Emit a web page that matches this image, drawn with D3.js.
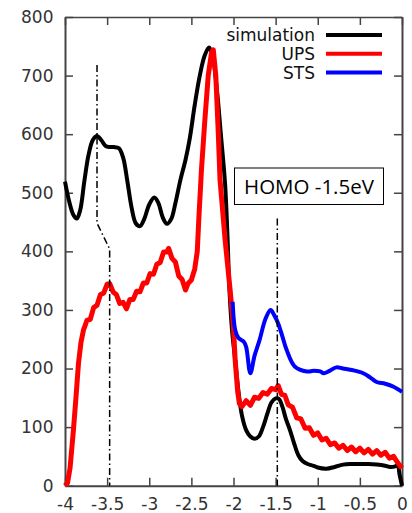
<!DOCTYPE html>
<html>
<head>
<meta charset="utf-8">
<script src="https://cdn.jsdelivr.net/npm/d3@7"></script>
<style>
    body { margin: 0; background: #fff; }
    svg { display: block; }
    .tick text { font-family: "DejaVu Sans", sans-serif; font-size: 17px; fill: #333; }
    .legend text { font-family: "DejaVu Sans", sans-serif; font-size: 17px; fill: #111; }
</style>
</head>
<body>
<svg id="chart" width="412" height="513"></svg>
<script>
// Data: energy (eV) -> intensity
var simX = [-4.00, -3.95, -3.90, -3.86, -3.82, -3.77, -3.72, -3.67, -3.62, -3.57, -3.52, -3.47, -3.42, -3.36, -3.31, -3.26, -3.21, -3.16, -3.11, -3.06,
            -3.00, -2.94, -2.89, -2.84, -2.79, -2.74, -2.69, -2.63, -2.57, -2.52, -2.46, -2.40, -2.34, -2.29, -2.25, -2.20, -2.15, -2.10, -2.07, -2.05,
            -2.02, -1.98, -1.94, -1.90, -1.85, -1.80, -1.75, -1.70, -1.65, -1.60, -1.55, -1.50, -1.46, -1.42, -1.38, -1.33, -1.28, -1.23, -1.18, -1.12,
            -1.05, -1.00, -0.90, -0.80, -0.70, -0.60, -0.50, -0.40, -0.30, -0.20, -0.14, -0.08, -0.05, -0.03, 0.00];
var simY = [519, 485, 462, 456, 470, 520, 565, 590, 597, 590, 580, 578, 578, 576, 560, 520, 475, 448, 443, 455,
            480, 492, 482, 458, 447, 455, 482, 522, 556, 592, 650, 700, 735, 748, 735, 680, 600, 515, 420, 340,
            270, 214, 160, 120, 95, 84, 80, 84, 100, 122, 142, 149, 148, 135, 115, 95, 72, 52, 42, 37,
            34, 31, 29, 32, 36, 37, 37, 37, 36, 34, 32, 33, 35, 20, 0];

var upsX = [-4.00, -3.97, -3.94, -3.90, -3.87, -3.84, -3.81, -3.78, -3.74, -3.70, -3.66, -3.62, -3.58, -3.54, -3.50, -3.47, -3.43, -3.39, -3.35, -3.31,
            -3.27, -3.23, -3.19, -3.15, -3.11, -3.07, -3.03, -2.99, -2.95, -2.91, -2.87, -2.83, -2.79, -2.77, -2.73, -2.69, -2.65, -2.61, -2.57, -2.54,
            -2.50, -2.46, -2.43, -2.41, -2.38, -2.34, -2.30, -2.26, -2.24, -2.21, -2.18, -2.16, -2.10, -2.04, -2.00, -1.98, -1.95, -1.93, -1.90, -1.85,
            -1.80, -1.75, -1.70, -1.65, -1.60, -1.55, -1.50, -1.47, -1.43, -1.39, -1.35, -1.30, -1.25, -1.20, -1.15, -1.10, -1.05, -1.00, -0.95, -0.90,
            -0.85, -0.80, -0.75, -0.70, -0.65, -0.60, -0.55, -0.50, -0.45, -0.40, -0.35, -0.30, -0.25, -0.20, -0.15, -0.10, -0.05, 0.00];
var upsY = [0, 5, 30, 95, 150, 209, 245, 266, 282, 284, 304, 308, 326, 329, 344, 345, 331, 326, 311, 313,
            302, 318, 318, 332, 331, 346, 346, 362, 361, 378, 381, 399, 399, 405, 388, 382, 358, 352, 334, 345,
            351, 370, 400, 460, 540, 624, 700, 740, 744, 700, 600, 522, 420, 334, 270, 214, 160, 140, 135, 145,
            137, 151, 149, 159, 156, 166, 164, 171, 156, 154, 138, 134, 116, 114, 98, 99, 86, 90, 78, 81,
            70, 73, 64, 69, 60, 66, 58, 64, 56, 62, 54, 60, 52, 57, 47, 50, 39, 30];

var stsX = [-2.01, -1.98, -1.94, -1.88, -1.85, -1.80, -1.75, -1.69, -1.62, -1.56, -1.52, -1.47, -1.42, -1.37, -1.27, -1.13, -1.05, -0.97, -0.93, -0.86,
            -0.78, -0.70, -0.58, -0.46, -0.38, -0.30, -0.20, -0.10, 0.00];
var stsY = [314, 266, 252, 246, 237, 192, 222, 249, 285, 300, 292, 277, 255, 232, 203, 195, 196, 195, 192, 196,
            202, 200, 197, 192, 185, 177, 174, 169, 160];

// Dash-dot guide lines
var guideLeftX = [-3.62, -3.62, -3.47, -3.47];
var guideLeftY = [718, 448, 404, 0];
var guideRightX = [-1.48, -1.48];
var guideRightY = [456, 0];

var xTicks = [-4, -3.5, -3, -2.5, -2, -1.5, -1, -0.5, 0];
var yTicks = [0, 100, 200, 300, 400, 500, 600, 700, 800];

var seriesNames = ["simulation", "UPS", "STS"];
var seriesColors = ["#000000", "#ff0000", "#0000ff"];
var annotation = "HOMO -1.5eV";

function zip(xs, ys) {
    return xs.map(function(x, i) { return [x, ys[i]]; });
}

var svg = d3.select("#chart");

var _left = 65, _right = 402, _top = 17, _bottom = 485.7;

var x = d3.scaleLinear().domain([-4, 0]).range([_left, _right]);
var y = d3.scaleLinear().domain([0, 800]).range([_bottom, _top]);

// axes, ticks pointing inward like gnuplot
svg.append("g")
    .attr("transform", "translate(0," + _bottom + ")")
    .call(d3.axisBottom(x).tickValues(xTicks).tickSize(-8).tickSizeOuter(0).tickPadding(12)
        .tickFormat(function(d) { return String(d); }))
    .call(function(g) {
        g.select(".domain").attr("stroke", "#444").attr("stroke-width", 2);
        g.selectAll(".tick line").attr("stroke", "#444").attr("stroke-width", 1.5);
    });

svg.append("g")
    .attr("transform", "translate(" + _left + ",0)")
    .call(d3.axisLeft(y).tickValues(yTicks).tickSize(-8).tickSizeOuter(0).tickPadding(11.5))
    .call(function(g) {
        g.select(".domain").attr("stroke", "#444").attr("stroke-width", 2);
        g.selectAll(".tick line").attr("stroke", "#444").attr("stroke-width", 1.5);
    });

svg.append("g")
    .attr("transform", "translate(0," + _top + ")")
    .call(d3.axisTop(x).tickValues(xTicks).tickSize(-8).tickSizeOuter(0).tickFormat(""))
    .call(function(g) {
        g.select(".domain").attr("stroke", "#444").attr("stroke-width", 1.5);
        g.selectAll(".tick line").attr("stroke", "#444").attr("stroke-width", 1.5);
    });

svg.append("g")
    .attr("transform", "translate(" + _right + ",0)")
    .call(d3.axisRight(y).tickValues(yTicks).tickSize(-8).tickSizeOuter(0).tickFormat(""))
    .call(function(g) {
        g.select(".domain").attr("stroke", "#444").attr("stroke-width", 2);
        g.selectAll(".tick line").attr("stroke", "#444").attr("stroke-width", 1.5);
    });

// curves
var smoothLine = d3.line()
    .x(function(d) { return x(d[0]); })
    .y(function(d) { return y(d[1]); })
    .curve(d3.curveCatmullRom.alpha(0.5));

var rawLine = d3.line()
    .x(function(d) { return x(d[0]); })
    .y(function(d) { return y(d[1]); });

svg.append("path")
    .datum(zip(simX, simY))
    .attr("d", smoothLine)
    .attr("fill", "none")
    .attr("stroke", seriesColors[0])
    .attr("stroke-width", 4)
    .attr("stroke-linejoin", "round");

svg.append("path")
    .datum(zip(upsX, upsY))
    .attr("d", rawLine)
    .attr("fill", "none")
    .attr("stroke", seriesColors[1])
    .attr("stroke-width", 5)
    .attr("stroke-linejoin", "round");

svg.append("path")
    .datum(zip(stsX, stsY))
    .attr("d", smoothLine)
    .attr("fill", "none")
    .attr("stroke", seriesColors[2])
    .attr("stroke-width", 4)
    .attr("stroke-linejoin", "round");

// dash-dot guides
[zip(guideLeftX, guideLeftY), zip(guideRightX, guideRightY)].forEach(function(pts) {
    svg.append("path")
        .datum(pts)
        .attr("d", rawLine)
        .attr("fill", "none")
        .attr("stroke", "#000")
        .attr("stroke-width", 1.5)
        .attr("stroke-dasharray", "7,3,1.5,3");
});

// legend
var legend = svg.append("g").classed("legend", true);
seriesNames.forEach(function(name, i) {
    var ly = 35 + i * 18.8;
    legend.append("text")
        .attr("x", 315)
        .attr("y", ly)
        .attr("dy", "0.35em")
        .attr("text-anchor", "end")
        .text(name);
    legend.append("line")
        .attr("x1", 326).attr("x2", 382)
        .attr("y1", ly).attr("y2", ly)
        .attr("stroke", seriesColors[i])
        .attr("stroke-width", 4);
});

// annotation box
svg.append("rect")
    .attr("x", 234.5).attr("y", 168)
    .attr("width", 149).attr("height", 36.5)
    .attr("fill", "#fff")
    .attr("stroke", "#000")
    .attr("stroke-width", 1);

svg.append("text")
    .attr("x", 309).attr("y", 186.5)
    .attr("dy", "0.35em")
    .attr("text-anchor", "middle")
    .style("font-family", "'Open Sans', sans-serif")
    .style("font-size", "20.5px")
    .attr("fill", "#000")
    .text(annotation);
</script>
</body>
</html>
